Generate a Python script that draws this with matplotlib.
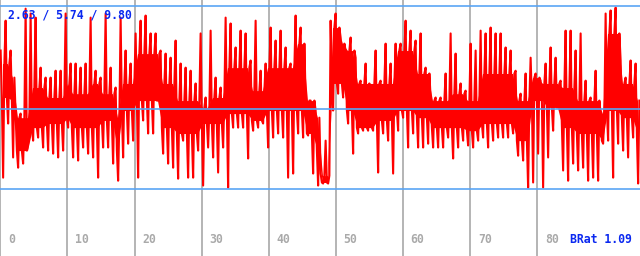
import numpy as np
import matplotlib
matplotlib.use("Agg")
import matplotlib.pyplot as plt

# signal read per ~5 px block: spike high, spike low, and the dense body top / bottom
hi = [8.05, 9.22, 8.05, 5.58, 5.58, 9.69, 9.50, 9.34, 7.38, 6.99, 6.99, 7.26, 7.26, 9.50, 7.54, 7.54,
      7.38, 7.54, 9.34, 7.26, 6.99, 9.50, 7.38, 6.60, 9.34, 8.05, 7.54, 8.72, 9.22, 9.42, 8.72, 8.72,
      8.05, 7.93, 7.77, 8.44, 7.54, 7.38, 7.26, 6.76, 8.72, 6.21, 8.83, 6.99, 6.60, 9.34, 9.11, 8.17,
      8.83, 8.72, 7.66, 9.22, 7.26, 7.54, 8.95, 8.44, 8.83, 8.17, 7.54, 9.42, 8.95, 6.21, 6.09, 5.70,
      3.23, 4.52, 9.22, 9.50, 8.56, 8.05, 8.56, 7.77, 6.87, 7.54, 6.21, 8.05, 6.87, 8.32, 7.54, 8.32,
      8.32, 9.22, 8.83, 8.44, 8.72, 7.38, 6.21, 6.21, 6.21, 7.15, 8.72, 7.93, 6.76, 6.48, 8.32, 8.05,
      8.83, 8.72, 8.95, 8.72, 8.72, 8.17, 8.05, 7.26, 6.36, 7.15, 7.77, 7.15, 6.87, 7.54, 8.17, 7.77,
      6.87, 8.83, 8.83, 8.05, 8.72, 6.87, 6.21, 7.26, 5.58, 9.50, 9.62, 9.73, 7.66, 6.99, 7.66, 7.54]
lo = [3.07, 5.19, 3.86, 3.46, 3.62, 4.40, 4.52, 4.64, 4.25, 4.13, 4.01, 3.86, 4.13, 5.03, 3.86, 3.74,
      4.25, 4.01, 3.86, 3.07, 4.25, 4.25, 3.62, 2.95, 3.86, 4.40, 4.52, 3.07, 5.31, 4.80, 4.80, 6.09,
      4.01, 3.62, 3.46, 3.03, 4.52, 3.07, 3.07, 4.13, 2.76, 4.25, 3.86, 3.27, 4.25, 2.68, 5.03, 5.03,
      5.03, 3.82, 4.91, 5.03, 5.19, 4.25, 4.64, 4.80, 4.64, 3.07, 3.23, 4.80, 4.64, 4.72, 3.23, 2.76,
      2.84, 2.84, 5.70, 6.36, 6.21, 5.19, 4.01, 4.80, 4.91, 4.91, 4.91, 3.27, 4.80, 4.52, 3.23, 4.91,
      5.42, 4.25, 4.80, 4.25, 4.25, 4.40, 4.25, 4.25, 4.25, 4.64, 3.82, 4.25, 4.52, 4.33, 4.25, 4.52,
      4.64, 4.25, 4.52, 4.64, 4.64, 4.64, 4.80, 3.93, 3.74, 2.68, 2.88, 4.01, 2.68, 3.86, 4.91, 5.82,
      3.35, 2.95, 3.62, 3.35, 3.46, 2.95, 3.07, 2.95, 4.40, 4.52, 3.07, 4.40, 4.13, 3.86, 4.64, 2.84]
body_top = [7.54, 7.54, 6.99, 5.42, 5.42, 5.42, 6.60, 6.60, 6.60, 6.21, 6.21, 6.21, 6.21, 6.76, 6.36, 6.36,
            6.36, 6.36, 6.76, 6.76, 6.36, 6.36, 6.36, 5.42, 6.76, 6.76, 6.76, 7.93, 7.93, 7.93, 7.93, 7.93,
            6.76, 6.76, 6.76, 6.09, 6.09, 6.09, 6.09, 6.09, 5.82, 5.82, 6.21, 6.21, 6.21, 7.38, 7.38, 7.38,
            7.38, 7.38, 6.48, 6.48, 6.48, 7.38, 7.38, 7.38, 7.38, 7.38, 7.38, 8.32, 8.32, 6.09, 6.09, 5.42,
            3.15, 3.15, 8.95, 8.95, 8.32, 8.05, 8.05, 6.76, 6.76, 6.76, 6.76, 6.76, 6.76, 6.76, 6.76, 8.05,
            8.05, 8.05, 8.05, 7.15, 7.15, 7.15, 6.09, 6.09, 6.09, 6.09, 6.36, 6.36, 6.36, 6.09, 6.09, 6.09,
            7.15, 7.15, 7.15, 7.15, 7.15, 7.15, 7.15, 6.09, 6.09, 6.09, 6.99, 6.99, 6.76, 6.76, 6.76, 6.76,
            6.60, 6.60, 6.60, 6.09, 6.09, 6.09, 6.09, 6.09, 5.58, 8.72, 8.72, 8.72, 6.76, 6.76, 6.76, 6.09]
body_bot = [6.21, 6.21, 6.09, 4.13, 4.13, 4.13, 5.03, 5.03, 5.03, 5.19, 5.19, 5.19, 5.19, 5.42, 5.03, 5.03,
            5.03, 5.03, 5.03, 5.03, 5.31, 5.31, 5.31, 4.13, 5.70, 5.70, 5.70, 6.09, 6.09, 6.09, 6.09, 6.09,
            5.03, 5.03, 5.03, 4.80, 4.80, 4.80, 4.80, 4.80, 5.19, 5.19, 5.19, 5.19, 5.19, 5.58, 5.58, 5.58,
            5.58, 5.58, 5.31, 5.31, 5.31, 5.70, 5.70, 5.70, 5.70, 5.70, 5.70, 5.70, 5.70, 4.80, 4.80, 4.13,
            2.88, 2.88, 6.76, 6.76, 6.76, 5.70, 5.70, 5.03, 5.03, 5.03, 5.03, 5.31, 5.31, 5.31, 5.31, 5.70,
            5.70, 5.70, 5.70, 5.42, 5.42, 5.42, 5.03, 5.03, 5.03, 5.03, 5.03, 5.03, 5.03, 4.91, 4.91, 4.91,
            5.19, 5.19, 5.19, 5.19, 5.19, 5.19, 5.19, 4.52, 4.52, 4.52, 6.09, 6.09, 6.09, 5.82, 5.82, 5.82,
            5.03, 5.03, 5.03, 4.80, 4.80, 4.80, 4.80, 4.80, 4.52, 5.70, 5.70, 5.70, 5.42, 5.42, 5.42, 4.80]

ref_levels = [2.63, 5.74, 9.80]
x_ticks = [0, 10, 20, 30, 40, 50, 60, 70, 80]
x_span = 95.38
stats_text = "2.63 / 5.74 / 9.80"
brat_text = "BRat 1.09"

n = len(hi)
block = x_span / n
x_block = (np.arange(n) + 0.5) * block

# trace order inside each block: spike up, body bottom, spike down, body top
trace = np.ravel(np.column_stack([hi, body_bot, lo, body_top]))
x_trace = (np.arange(len(trace)) + 0.5) * (x_span / len(trace))

fig = plt.figure(figsize=(6.4, 2.56), dpi=100)
ax = fig.add_axes([0, 0, 1, 1])
ax.set_xlim(0, x_span)
ax.set_ylim(0, 10.03)
ax.axis("off")

for t in x_ticks:
    ax.axvline(t + 0.05, color="#a8a8a8", lw=1.2, zorder=1)
    ax.text(t + 1.2, 0.63, str(t), color="#aaaaaa", fontsize=8.3,
            family="DejaVu Sans Mono", fontweight="bold", va="center", ha="left", zorder=5)

red = "#ff0000"
ax.fill_between(x_block, body_bot, body_top, color=red, lw=0, zorder=2)
ax.plot(x_trace, trace, color=red, lw=1.5, zorder=2)

for lv in ref_levels:
    ax.axhline(lv, color="#5aa5f5", lw=1.2, zorder=3)

ax.text(1.2, 9.45, stats_text, color="#0a28f0", fontsize=8.3, family="DejaVu Sans Mono",
        fontweight="bold", va="center", ha="left", zorder=6)
ax.text(84.9, 0.63, brat_text, color="#0a28f0", fontsize=8.3, family="DejaVu Sans Mono",
        fontweight="bold", va="center", ha="left", zorder=6)

fig.savefig("out.png", dpi=100)
